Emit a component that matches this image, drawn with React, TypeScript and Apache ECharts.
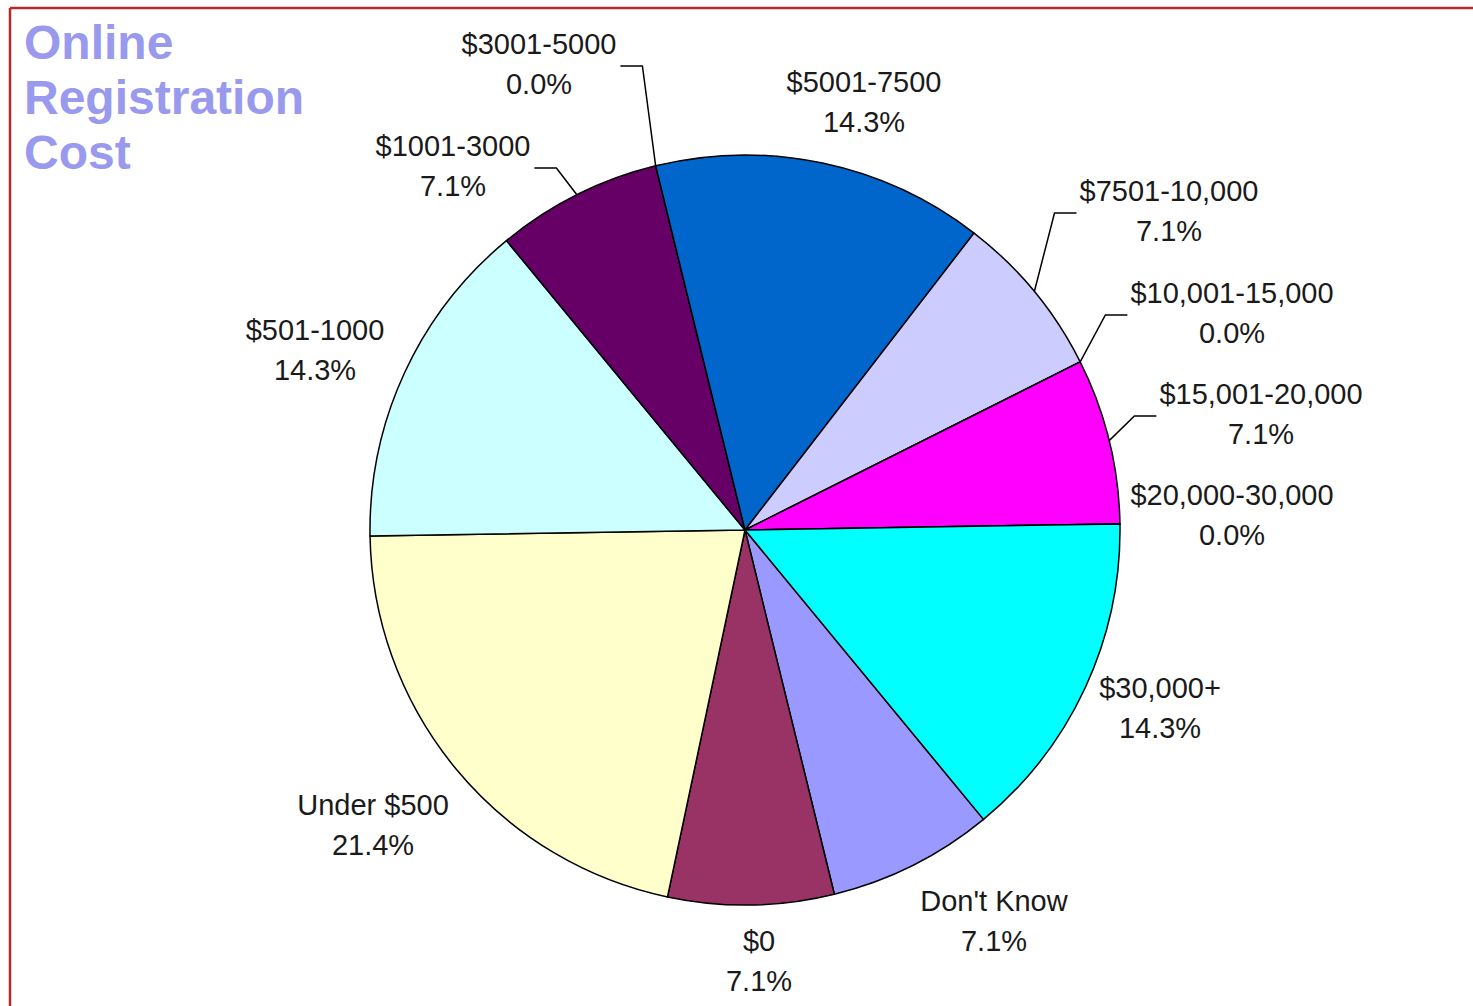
import React, { useEffect, useRef } from 'react';
import * as echarts from 'echarts';

// ---- data (Excel series order) ----
const categories = [
  "Don't Know",
  '$0',
  'Under $500',
  '$501-1000',
  '$1001-3000',
  '$3001-5000',
  '$5001-7500',
  '$7501-10,000',
  '$10,001-15,000',
  '$15,001-20,000',
  '$20,000-30,000',
  '$30,000+',
];
const counts = [1, 1, 3, 2, 1, 0, 2, 1, 0, 1, 0, 2];

// ---- styles / layout ----
const sliceColors = [
  '#9999FF', '#993366', '#FFFFCC', '#CCFFFF', '#660066', '#FF8080',
  '#0066CC', '#CCCCFF', '#000080', '#FF00FF', '#FFFF00', '#00FFFF',
];
const labelCenters = [
  [994, 921], [759, 961], [373, 825], [315, 350], [453, 166], [539, 64],
  [864, 102], [1169, 211], [1232, 313], [1261, 414], [1232, 515], [1160, 708],
];
const hasLeader = [false, false, false, false, true, true, false, true, true, true, false, false];

const CX = 745;
const CY = 530;
const R = 375;
const START = -50.5;
const FONT = "'Liberation Sans', Arial, sans-serif";

export default function App() {
  const ref = useRef<HTMLDivElement>(null);

  useEffect(() => {
    if (!ref.current) return;
    const chart = echarts.init(ref.current, undefined, { renderer: 'svg' });
    const total = counts.reduce((a, b) => a + b, 0);
    const cum: number[] = [];
    counts.reduce((acc, v, i) => {
      cum[i] = acc;
      return acc + v;
    }, 0);
    const midPoint = (i: number) => {
      const a = ((START - ((cum[i] + counts[i] / 2) / total) * 360) * Math.PI) / 180;
      return [CX + R * Math.cos(a), CY - R * Math.sin(a)];
    };

    chart.setOption({
      animation: false,
      backgroundColor: '#ffffff',
      title: {
        text: 'Online\nRegistration\nCost',
        left: 24,
        top: 15,
        padding: 0,
        textStyle: {
          fontFamily: FONT,
          fontSize: 48,
          fontWeight: 'bold',
          lineHeight: 55,
          color: '#9999EE',
        },
      },
      graphic: [
        {
          type: 'line',
          shape: { x1: 10, y1: 8, x2: 1473, y2: 8 },
          style: { stroke: '#B82828', lineWidth: 2.5 },
        },
        {
          type: 'line',
          shape: { x1: 10, y1: 8, x2: 10, y2: 1006 },
          style: { stroke: '#B82828', lineWidth: 2.5 },
        },
      ],
      series: [
        {
          type: 'pie',
          center: [CX, CY],
          radius: R,
          startAngle: START,
          clockwise: true,
          avoidLabelOverlap: false,
          minShowLabelAngle: 0,
          itemStyle: { borderColor: '#000000', borderWidth: 1.5 },
          emphasis: { disabled: true },
          label: {
            show: true,
            position: 'outside',
            fontFamily: FONT,
            fontSize: 29,
            lineHeight: 40,
            color: '#1a1a1a',
            formatter: (p: any) =>
              `${p.name}\n${((counts[p.dataIndex] / total) * 100).toFixed(1)}%`,
          },
          labelLine: {
            show: true,
            length: 10,
            length2: 10,
            lineStyle: { color: '#000000', width: 1.5 },
          },
          labelLayout: (params: any) => {
            const i = params.dataIndex;
            const [lx, ly] = labelCenters[i];
            const out: any = { x: lx, y: ly, align: 'center', verticalAlign: 'middle' };
            if (hasLeader[i]) {
              const edge = midPoint(i);
              const w = params.labelRect.width;
              const y = ly + 2;
              if (lx > edge[0]) {
                const ex = lx - w / 2 - 3;
                out.labelLinePoints = [edge, [ex - 22, y], [ex, y]];
              } else {
                const ex = lx + w / 2 + 4;
                out.labelLinePoints = [edge, [ex + 22, y], [ex, y]];
              }
            }
            return out;
          },
          data: categories.map((name, i) => ({
            name,
            value: counts[i],
            itemStyle: { color: sliceColors[i] },
            labelLine: { show: hasLeader[i] },
          })),
        },
      ],
    });

    return () => chart.dispose();
  }, []);

  return (
    <div
      ref={ref}
      style={{ position: 'fixed', left: 0, top: 0, width: 1473, height: 1006 }}
    />
  );
}
